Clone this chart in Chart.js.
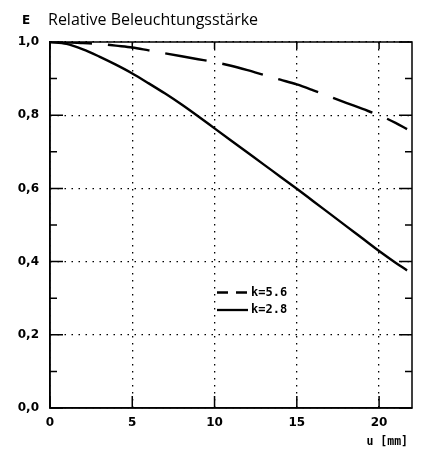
<!DOCTYPE html>
<html>
<head>
<meta charset="utf-8">
<script src="https://cdn.jsdelivr.net/npm/chart.js@4"></script>
<style>
  html, body { margin:0; padding:0; background:#fff; }
  #wrap { width:427px; height:455px; position:relative; }
</style>
</head>
<body>
<div id="wrap"><canvas id="chart" width="427" height="455"></canvas></div>
<script>
// ── data ────────────────────────────────────────────────────────────────────
const U_MM   = [0,1,2,3,4,5,6,7,8,9,10,11,12,13,14,15,16,17,18,19,20,21,21.7];
const E_K56  = [1.000,0.999,0.997,0.995,0.990,0.985,0.977,0.969,0.961,0.953,0.945,0.935,
                0.923,0.910,0.897,0.884,0.868,0.851,0.834,0.817,0.800,0.779,0.762];
const E_K28  = [1.000,0.995,0.980,0.960,0.938,0.914,0.887,0.859,0.829,0.797,0.764,0.731,
                0.698,0.665,0.632,0.599,0.565,0.531,0.497,0.463,0.429,0.397,0.376];
const SERIES_LABELS = ["k=5.6","k=2.8"];
const X_TICKS = [0,5,10,15,20];
const Y_TICKS = [0,0.1,0.2,0.3,0.4,0.5,0.6,0.7,0.8,0.9,1.0];

const MONO_FONT = "bold 12px 'DejaVu Sans Mono'";
const DASH = [42,16];

// ── frame, inner ticks, titles and legend ───────────────────────────────────
const frame = {
  id: "frame",
  afterDraw(chart) {
    const { ctx, chartArea: a, scales: { x, y } } = chart;
    ctx.save();
    ctx.strokeStyle = "#000";
    ctx.lineWidth = 1.5;
    ctx.strokeRect(a.left, a.top, a.right - a.left, a.bottom - a.top);

    // y ticks on both sides, pointing inward
    Y_TICKS.forEach((v, i) => {
      const py = y.getPixelForValue(v);
      const len = i % 2 === 0 ? 13 : 7;
      ctx.beginPath();
      ctx.moveTo(a.left, py); ctx.lineTo(a.left + len, py);
      ctx.moveTo(a.right, py); ctx.lineTo(a.right - len, py);
      ctx.stroke();
    });
    // x ticks on bottom and top
    X_TICKS.forEach(v => {
      const px = x.getPixelForValue(v);
      ctx.beginPath();
      ctx.moveTo(px, a.bottom); ctx.lineTo(px, a.bottom - 12);
      ctx.moveTo(px, a.top); ctx.lineTo(px, a.top + 7);
      ctx.stroke();
    });

    // titles
    ctx.fillStyle = "#000";
    ctx.textBaseline = "alphabetic";
    ctx.textAlign = "left";
    ctx.font = "bold 12px 'DejaVu Sans'";
    ctx.fillText("E", 22, 24);
    ctx.font = "16px 'Open Sans'";
    ctx.fillText("Relative Beleuchtungsstärke", 48, 25);
    ctx.font = "bold 11.5px 'DejaVu Sans Mono'";
    ctx.textAlign = "right";
    ctx.textBaseline = "middle";
    ctx.fillText("u [mm]", 408, 442);

    // legend
    const lx = 217, lw = 31;
    ctx.textAlign = "left";
    ctx.font = MONO_FONT;
    ctx.lineWidth = 2.3;
    [[292.5, [11,8]], [310, []]].forEach(([ly, dash], i) => {
      ctx.setLineDash(dash);
      ctx.beginPath(); ctx.moveTo(lx, ly); ctx.lineTo(lx + lw, ly); ctx.stroke();
      ctx.setLineDash([]);
      ctx.fillText(SERIES_LABELS[i], 251, ly);
    });
    ctx.restore();
  }
};

const ctx = document.getElementById("chart").getContext("2d");
new Chart(ctx, {
  type: "line",
  data: {
    datasets: [
      { label: SERIES_LABELS[0], data: U_MM.map((u,i)=>({x:u, y:E_K56[i]})),
        borderColor:"#000", borderWidth:2.4, borderDash:DASH, pointRadius:0,
        cubicInterpolationMode:"monotone", fill:false },
      { label: SERIES_LABELS[1], data: U_MM.map((u,i)=>({x:u, y:E_K28[i]})),
        borderColor:"#000", borderWidth:2.4, pointRadius:0,
        cubicInterpolationMode:"monotone", fill:false }
    ]
  },
  options: {
    responsive:false, animation:false, devicePixelRatio:1,
    layout: { padding: { top:42, right:15, bottom:0, left:0 } },
    plugins: { legend:{display:false}, tooltip:{enabled:false}, title:{display:false} },
    scales: {
      x: {
        type:"linear", min:0, max:22,
        afterFit: s => { s.height = 47; },
        ticks: { stepSize:5, includeBounds:false, padding:8, color:"#000",
                 font:{ family:"'DejaVu Sans'", size:12, weight:"bold" }, maxRotation:0 },
        grid: { color:"#000", lineWidth:1.3, drawTicks:false },
        border: { display:true, color:"#000", width:1.5, dash:[1.5,5.5] }
      },
      y: {
        min:0, max:1,
        afterFit: s => { s.width = 50; },
        ticks: { stepSize:0.2, padding:11, color:"#000",
                 font:{ family:"'DejaVu Sans'", size:12, weight:"bold" },
                 callback: v => v.toFixed(1).replace(".", ",") },
        grid: { color:"#000", lineWidth:1.3, drawTicks:false },
        border: { display:true, color:"#000", width:1.5, dash:[1.5,5.5] }
      }
    }
  },
  plugins: [frame]
});
</script>
</body>
</html>
